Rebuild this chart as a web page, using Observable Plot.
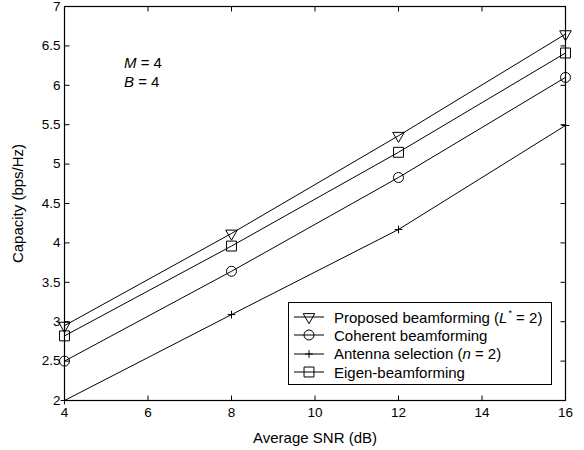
<!DOCTYPE html>
<html>
<head>
<meta charset="utf-8">
<script src="https://cdn.jsdelivr.net/npm/d3@7"></script>
<script src="https://cdn.jsdelivr.net/npm/@observablehq/plot@0.6"></script>
<style>
  html, body { margin: 0; padding: 0; background: #fff; }
  #wrap { position: relative; width: 584px; height: 450px; font-family: "Liberation Sans", Arial, Helvetica, sans-serif; }
  #wrap svg { font-family: "Liberation Sans", Arial, Helvetica, sans-serif; }
  #wrap svg g[aria-label$="tick label"], #wrap svg g[aria-label$="tick label"] text { font-size: 13.5px; }
  #wrap svg g[aria-label$="axis label"], #wrap svg g[aria-label$="axis label"] text { font-size: 15px; }
  .ann { position: absolute; left: 124px; top: 53px; font-size: 15px; line-height: 19px; color: #000; }
  .legend { position: absolute; left: 288px; top: 302px; width: 264px; height: 83px; border: 1px solid #000; background: #fff; box-sizing: border-box; font-size: 15px; color: #000; padding-top: 5px; }
  .legend .row { display: flex; align-items: center; height: 18.3px; white-space: nowrap; }
  .legend svg { margin-left: 4px; margin-right: 9px; flex: none; }
</style>
</head>
<body>
<div id="wrap"></div>
<script>
const snr = [4, 8, 12, 16];
const proposed = [2.95, 4.12, 5.36, 6.65];
const coherent = [2.5, 3.64, 4.83, 6.1];
const antenna = [2.0, 3.09, 4.17, 5.49];
const eigen = [2.82, 3.96, 5.15, 6.41];
const xTicks = [4, 6, 8, 10, 12, 14, 16];
const yTicks = [2, 2.5, 3, 3.5, 4, 4.5, 5, 5.5, 6, 6.5, 7];

const seriesNames = [
  "Proposed beamforming",
  "Coherent beamforming",
  "Antenna selection",
  "Eigen-beamforming"
];
const seriesValues = [proposed, coherent, antenna, eigen];
const symbols = ["triangle", "circle", "plus", "square"];
const rotations = [180, 0, 0, 0];
const radii = [4.3, 5, 2.6, 5.6];

const W = 584, H = 450, ML = 64, MR = 19, MT = 6, MB = 50, TICK = 5;

const rows = [];
seriesValues.forEach((vals, i) => {
  vals.forEach((v, j) => rows.push({series: seriesNames[i], x: snr[j], y: v, k: i}));
});

const dotMarks = seriesNames.map((name, i) =>
  Plot.dot(rows.filter(d => d.k === i), {
    x: "x", y: "y", symbol: () => symbols[i], r: radii[i],
    rotate: rotations[i], stroke: "#000", fill: "none", strokeWidth: 1
  })
);

// inward tick symbols (short line from the frame edge into the plot)
const tickSym = (dx, dy) => ({draw(ctx) { ctx.moveTo(0, 0); ctx.lineTo(dx, dy); }});
const tickOpts = {stroke: "#000", fill: "none", strokeWidth: 1, r: 3};

const chart = Plot.plot({
  width: W,
  height: H,
  marginLeft: ML,
  marginRight: MR,
  marginTop: MT,
  marginBottom: MB,
  style: {fontFamily: "Liberation Sans, Arial, sans-serif", color: "#000", background: "#fff"},
  x: {domain: [4, 16], ticks: xTicks},
  y: {domain: [2, 7], ticks: yTicks},
  marks: [
    Plot.axisX({anchor: "bottom", ticks: xTicks, tickSize: 0, tickPadding: 7, fontSize: 13.5,
      label: "Average SNR (dB)", labelAnchor: "center", labelArrow: "none", labelOffset: 42}),
    Plot.axisY({anchor: "left", ticks: yTicks, tickSize: 0, tickPadding: 4, fontSize: 13.5,
      tickFormat: d => String(d),
      label: "Capacity (bps/Hz)", labelAnchor: "center", labelArrow: "none", labelOffset: 52}),
    Plot.dot(xTicks, {x: d => d, frameAnchor: "bottom", symbol: tickSym(0, -TICK), ...tickOpts}),
    Plot.dot(xTicks, {x: d => d, frameAnchor: "top", symbol: tickSym(0, TICK), ...tickOpts}),
    Plot.dot(yTicks, {y: d => d, frameAnchor: "left", symbol: tickSym(TICK, 0), ...tickOpts}),
    Plot.dot(yTicks, {y: d => d, frameAnchor: "right", symbol: tickSym(-TICK, 0), ...tickOpts}),
    Plot.frame({stroke: "#000", strokeWidth: 1.2}),
    Plot.line(rows, {x: "x", y: "y", z: "series", stroke: "#000", strokeWidth: 1}),
    ...dotMarks
  ]
});

const wrap = document.getElementById("wrap");
wrap.appendChild(chart);

// annotation
const ann = document.createElement("div");
ann.className = "ann";
ann.innerHTML = "<i>M</i> = 4<br><i>B</i> = 4";
wrap.appendChild(ann);

// legend
const legendLabels = [
  "Proposed beamforming (<i>L</i><sup style='font-size:9px;vertical-align:7px;margin-left:1px'>*</sup> = 2)",
  "Coherent beamforming",
  "Antenna selection (<i>n</i> = 2)",
  "Eigen-beamforming"
];
const legend = document.createElement("div");
legend.className = "legend";
[0, 1, 2, 3].forEach(i => {
  const row = document.createElement("div");
  row.className = "row";
  const s = d3.create("svg").attr("width", 32).attr("height", 14);
  s.append("line").attr("x1", 1).attr("x2", 31).attr("y1", 7).attr("y2", 7).attr("stroke", "#000");
  const symType = {triangle: d3.symbolTriangle, circle: d3.symbolCircle, plus: d3.symbolPlus, square: d3.symbolSquare}[symbols[i]];
  const sym = d3.symbol(symType, Math.PI * radii[i] * radii[i]);
  s.append("path").attr("d", sym()).attr("transform", `translate(16,7) rotate(${rotations[i]})`)
    .attr("fill", "none").attr("stroke", "#000");
  row.appendChild(s.node());
  const t = document.createElement("span");
  t.innerHTML = legendLabels[i];
  row.appendChild(t);
  legend.appendChild(row);
});
wrap.appendChild(legend);
</script>
</body>
</html>
